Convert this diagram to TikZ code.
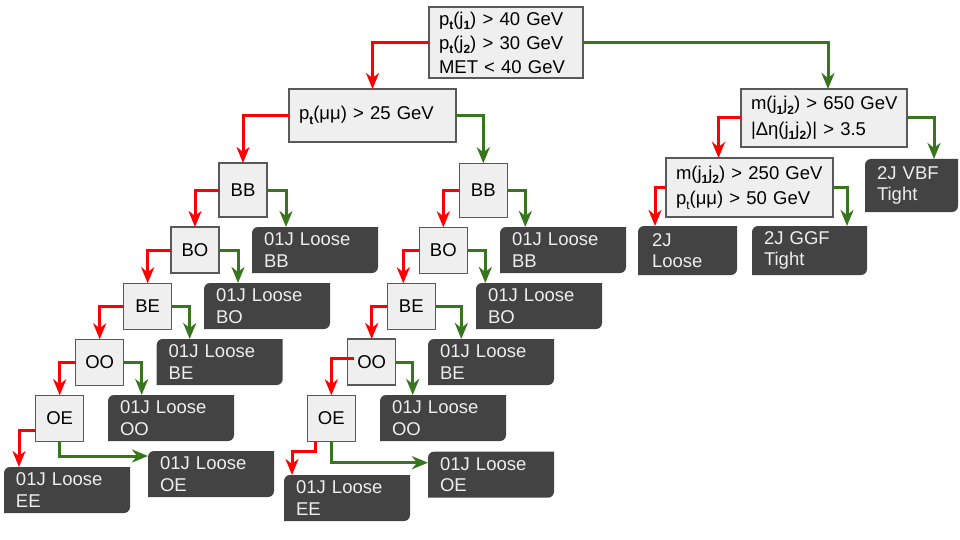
\documentclass[tikz,border=0pt]{standalone}
\usepackage{fontspec}
\setmainfont{Liberation Sans}
\usetikzlibrary{arrows.meta,backgrounds}
\definecolor{boxgray}{HTML}{EFEFEF}
\definecolor{linegray}{HTML}{595959}
\definecolor{leafgray}{HTML}{434343}
\definecolor{leaftext}{HTML}{EEEEEE}
\definecolor{nored}{HTML}{FF0000}
\definecolor{yesgreen}{HTML}{38761D}
\newcommand\sbx[1]{\raisebox{-4.5pt}{\fontsize{12}{12}\selectfont\bfseries #1}}
\newcommand\snb[1]{\raisebox{-4.5pt}{\fontsize{12}{12}\selectfont #1}}
\begin{document}
\begin{tikzpicture}[x=1pt,y=-1pt,
  font=\fontsize{18.5}{21}\selectfont,
  dec/.style={draw=linegray, fill=boxgray, line width=1.2pt, inner sep=0pt, outer sep=0pt, anchor=north west, text=black},
  cut/.style={dec, align=left, inner xsep=10pt},
  reg/.style={dec, minimum width=48pt, minimum height=46pt},
  leaf/.style={anchor=north west, inner sep=0pt, inner xsep=12pt, outer sep=0pt, align=left, text=leaftext, minimum height=46pt, text width=102pt, font=\fontsize{18.5}{21.7}\selectfont},
  no/.style={draw=nored, line width=3pt, -{Stealth[length=16pt,width=13pt,inset=5pt]}},
  yes/.style={no, draw=yesgreen}]
\useasboundingbox (0,0) rectangle (960,540);

% decision boxes
\node[cut, text width=134pt, minimum height=71pt, font=\fontsize{18.5}{24}\selectfont] (top) at (429,7)
  {p\sbx{t}(j\sbx{1})~>~40~GeV\\p\sbx{t}(j\sbx{2})~>~30~GeV\\MET~<~40~GeV};
\node[cut, text width=147pt, minimum height=53pt] (pt) at (289,89) {p\sbx{t}(μμ)~>~25~GeV};
\node[cut, text width=146pt, minimum height=58pt, font=\fontsize{18.5}{25.7}\selectfont] (m650) at (741,89)
  {m(j\sbx{1}j\sbx{2})~>~650~GeV\\|Δη(j\sbx{1}j\sbx{2})|~>~3.5};
\node[cut, text width=147pt, minimum height=59pt, font=\fontsize{18.5}{25.7}\selectfont] (m250) at (666,158)
  {m(j\sbx{1}j\sbx{2})~>~250~GeV\\p\snb{t}(μμ)~>~50~GeV};

% region boxes, left tree
\node[reg, minimum height=54pt] (BBL) at (219,163) {BB};
\node[reg] (BOL) at (171,227) {BO};
\node[reg] (BEL) at (123.7,283.3) {BE};
\node[reg] (OOL) at (75.7,339.3) {OO};
\node[reg] (OEL) at (35.7,395.3) {OE};
% region boxes, right tree
\node[reg, minimum height=54pt] (BBR) at (459.3,163.3) {BB};
\node[reg] (BOR) at (419.3,227.3) {BO};
\node[reg] (BER) at (387.3,283.3) {BE};
\node[reg] (OOR) at (347.7,339) {OO};
\node[reg] (OER) at (307.3,395.3) {OE};

% leaves
\node[leaf] (LBBL) at (252,227) {01J Loose\\BB};
\node[leaf] (LBOL) at (204,283) {01J Loose\\BO};
\node[leaf] (LBEL) at (156.7,339) {01J Loose\\BE};
\node[leaf] (LOOL) at (108,395) {01J Loose\\OO};
\node[leaf] (LOEL) at (148,451) {01J Loose\\OE};
\node[leaf] (LEEL) at (4,467) {01J Loose\\EE};
\node[leaf] (LBBR) at (500,227) {01J Loose\\BB};
\node[leaf] (LBOR) at (476,283) {01J Loose\\BO};
\node[leaf] (LBER) at (428,339) {01J Loose\\BE};
\node[leaf] (LOOR) at (380,395) {01J Loose\\OO};
\node[leaf] (LOER) at (428,451.7) {01J Loose\\OE};
\node[leaf] (LEER) at (284,475) {01J Loose\\EE};
\node[leaf, text width=71pt, inner xsep=14pt, minimum height=49pt] (L2JL) at (638,226) {2J\\Loose};
\node[leaf, text width=91pt, minimum height=49pt] (L2JG) at (752,226) {2J GGF\\Tight};
\node[leaf, text width=69pt, minimum height=53pt] (L2JV) at (865,159) {2J VBF\\Tight};

\begin{scope}[on background layer]
\foreach \n in {LBBL,LBOL,LBEL,LOOL,LOEL,LEEL,LBBR,LBOR,LBER,LOOR,LOER,LEER,L2JL,L2JG,L2JV}{
  \fill[leafgray] (\n.south west) -- ([yshift=-6pt]\n.north west) arc[start angle=180,end angle=90,radius=6pt]
    -- (\n.north east) -- ([yshift=6pt]\n.south east) arc[start angle=0,end angle=-90,radius=6pt] -- cycle;
}
\end{scope}

% helper coordinates for the green turns
\coordinate (c1) at ([xshift=19pt]BBL.east);
\coordinate (c2) at ([xshift=19pt]BOL.east);
\coordinate (c3) at ([xshift=18pt]BEL.east);
\coordinate (c4) at ([xshift=18pt]OOL.east);
\coordinate (c5) at ([xshift=18pt]BBR.east);
\coordinate (c6) at ([xshift=18pt]BOR.east);
\coordinate (c7) at ([xshift=26pt]BER.east);
\coordinate (c8) at ([xshift=17pt]OOR.east);
\coordinate (c9) at ([xshift=14pt]m250.east);
\coordinate (c10) at ([xshift=27pt]m650.east);

% connectors
\draw[no] (top.west) -| (pt.north);
\draw[yes] (top.east) -| ([xshift=4pt]m650.north);
\draw[no] (pt.west) -| (BBL.north);
\draw[yes] (pt.east) -| (BBR.north);
\draw[no] (m650.west) -| ([xshift=-31pt]m250.north);
\draw[yes] (m650.east) -| (c10 |- L2JV.north);
\draw[no] (m250.west) -| ([xshift=17pt]L2JL.north west);
\draw[yes] (m250.east) -| (c9 |- L2JG.north);

\draw[no] (BBL.west) -| (BOL.north);
\draw[yes] (BBL.east) -| (c1 |- LBBL.north);
\draw[no] (BOL.west) -| (BEL.north);
\draw[yes] (BOL.east) -| (c2 |- LBOL.north);
\draw[no] (BEL.west) -| (OOL.north);
\draw[yes] (BEL.east) -| (c3 |- LBEL.north);
\draw[no] (OOL.west) -| (OEL.north);
\draw[yes] (OOL.east) -| (c4 |- LOOL.north);
\draw[no] ([yshift=-12pt]OEL.west) -| ([xshift=15pt]LEEL.north west);
\draw[yes] (OEL.south) |- ([yshift=-5pt]LOEL.north west);

\draw[no] (BBR.west) -| (BOR.north);
\draw[yes] (BBR.east) -| (c5 |- LBBR.north);
\draw[no] (BOR.west) -| ([xshift=-8pt]BER.north);
\draw[yes] (BOR.east) -| (c6 |- LBOR.north);
\draw[no] (BER.west) -| (OOR.north);
\draw[yes] (BER.east) -| (c7 |- LBER.north);
\draw[no] ([xshift=6pt,yshift=4pt]OOR.west) -| (OER.north);
\draw[yes] (OOR.east) -| (c8 |- LOOR.north);
\draw[no] ([xshift=-16pt]OER.south) -- ++(0,10) -| ([xshift=8pt]LEER.north west);
\draw[yes] (OER.south) |- ([yshift=-11pt]LOER.north west);
\end{tikzpicture}
\end{document}
